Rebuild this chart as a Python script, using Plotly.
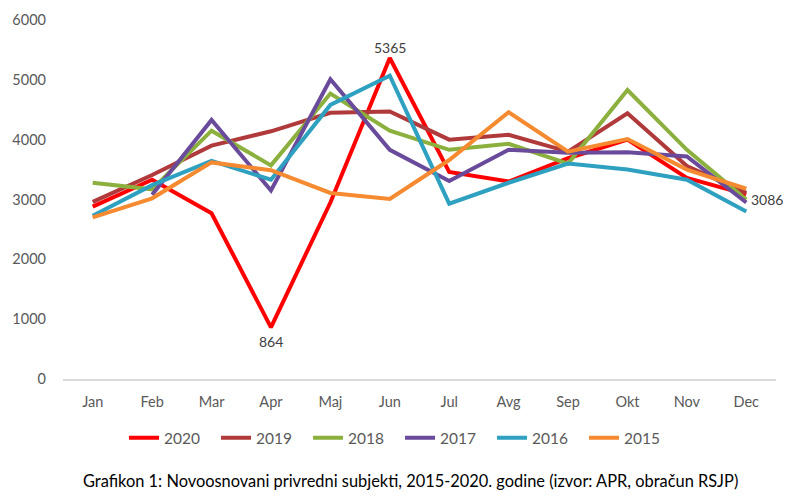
import plotly.graph_objects as go

months = ["Jan", "Feb", "Mar", "Apr", "Maj", "Jun", "Jul", "Avg", "Sep", "Okt", "Nov", "Dec"]

y2020 = [2880, 3330, 2770, 864, 2950, 5365, 3460, 3300, 3690, 4000, 3360, 3086]
y2019 = [2960, 3410, 3900, 4140, 4450, 4470, 4000, 4080, 3800, 4440, 3560, 3110]
y2018 = [3280, 3170, 4150, 3570, 4770, 4150, 3830, 3930, 3600, 4830, 3830, 3000]
y2017 = [None, 3080, 4330, 3150, 5010, 3830, 3310, 3830, 3780, 3790, 3720, 2950]
y2016 = [2730, 3240, 3645, 3330, 4580, 5070, 2930, 3280, 3600, 3500, 3330, 2800]
y2015 = [2700, 3020, 3620, 3490, 3110, 3010, 3660, 4460, 3800, 4010, 3500, 3180]

series = [
    ("2020", y2020, "#FF0000"),
    ("2019", y2019, "#B03A3B"),
    ("2018", y2018, "#8BB03E"),
    ("2017", y2017, "#6A4A9A"),
    ("2016", y2016, "#2EA0C0"),
    ("2015", y2015, "#F58A30"),
]

# indices of labeled 2020 points: (index, xanchor, yanchor, xshift, yshift)
label_pts = [(3, "center", "top", 0, -4), (5, "center", "bottom", 0, 0), (11, "left", "middle", 3, -5)]

FONT = "Lato, Open Sans, sans-serif"

fig = go.Figure()
for name, vals, color in series:
    fig.add_trace(go.Scatter(
        x=months, y=vals, name=name, mode="lines",
        line=dict(color=color, width=4),
        cliponaxis=False,
    ))

annotations = []
for i, xa, ya, xs, ys in label_pts:
    annotations.append(dict(
        x=months[i], y=y2020[i], xref="x", yref="y", text=str(y2020[i]),
        showarrow=False, xanchor=xa, yanchor=ya, xshift=xs, yshift=ys,
        font=dict(family=FONT, size=14, color="#404040"),
    ))
annotations.append(dict(
    text="Grafikon 1: Novoosnovani privredni subjekti, 2015-2020. godine (izvor: APR, obračun RSJP)",
    xref="paper", yref="paper", x=0.487, y=-0.284, xanchor="center", yanchor="middle",
    showarrow=False, font=dict(family=FONT, size=16.4, color="#000000"),
))

fig.update_layout(
    width=800, height=498,
    margin=dict(l=63, r=24, t=20, b=119),
    paper_bgcolor="white", plot_bgcolor="white",
    font=dict(family=FONT, size=14, color="#595959"),
    showlegend=True,
    legend=dict(
        orientation="h", x=0.4727, xanchor="center", y=-0.165, yanchor="middle",
        font=dict(family=FONT, size=15.5, color="#595959"),
        itemwidth=30, entrywidth=47, entrywidthmode="pixels",
    ),
    xaxis=dict(
        type="category", range=[-0.5, 11.5],
        showline=True, linecolor="#D9D9D9", linewidth=1.5,
        showgrid=False, zeroline=False, ticks="",
        ticklabelstandoff=9,
        tickfont=dict(family=FONT, size=14.5, color="#595959"),
    ),
    yaxis=dict(
        range=[0, 6000], dtick=1000, showgrid=False, zeroline=False,
        showline=False, ticks="", ticklabelstandoff=16,
        tickfont=dict(family=FONT, size=14.5, color="#595959"),
    ),
    annotations=annotations,
)

fig.write_html("out.html")
